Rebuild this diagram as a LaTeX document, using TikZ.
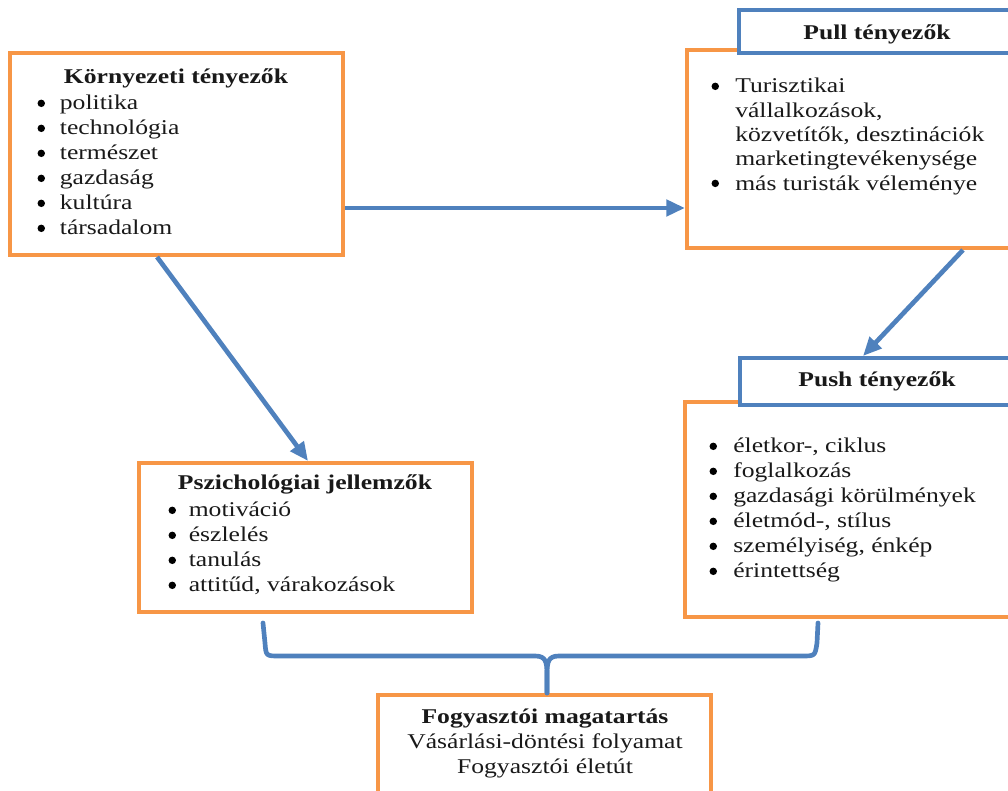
\documentclass[tikz,border=0pt]{standalone}
\usepackage{fontspec}
\setmainfont{Liberation Serif}[FakeStretch=1.22]
\usetikzlibrary{fit,arrows.meta}
\definecolor{oorange}{HTML}{F79646}
\definecolor{oblue}{HTML}{4F81BD}
\newcommand\dotb{\raisebox{2.2pt}{\tikz\fill[black] (0,0) circle (2.8pt);}}
\newcommand\bul[1][15pt]{\makebox[#1][l]{\makebox[0pt]{\dotb}}}
\newcommand\nob[1][15pt]{\makebox[#1][l]{}}
\begin{document}
\begin{tikzpicture}[x=0.75pt,y=-0.75pt,
 obox/.style={draw=oorange, line width=3pt, fill=white, inner sep=0pt},
 bbox/.style={draw=oblue, line width=3pt, fill=white, inner sep=0pt},
 txt/.style={inner sep=0pt, text=black!90, font=\fontsize{15.75}{18.75}\selectfont},
 ttl/.style={txt, font=\fontsize{15.75}{18.75}\selectfont\bfseries, anchor=base},
 lst/.style={txt, anchor=base west},
 arr/.style={draw=oblue, line width=3.5pt, -{Triangle[length=14pt,width=12pt]}},
 brc/.style={draw=oblue, line width=3.5pt, line cap=round, line join=round}]
\useasboundingbox (0,0) rectangle (1008,791);
\clip (0,0) rectangle (1008,791);

% boxes
\node[obox, fit={(10,53) (343,255)}] (korny) {};
\node[obox, fit={(687,50) (1020,248)}] (pull) {};
\node[bbox, fit={(739,10) (1020,53)}] (pullH) {};
\node[obox, fit={(685,402) (1020,617)}] (push) {};
\node[bbox, fit={(740,358) (1020,405)}] (pushH) {};
\node[obox, fit={(139,463) (472,612)}] (psych) {};
\node[obox, fit={(378,695) (711,810)}] (fogy) {};

% texts
\node[ttl] (kornyT) at (176,84) {Környezeti tényezők};
\node[lst] (kornyL) at (41,110) {\begin{tabular}[t]{@{}l@{}}
\bul[14pt]politika\\ \bul[14pt]technológia\\ \bul[14pt]természet\\
\bul[14pt]gazdaság\\ \bul[14pt]kultúra\\ \bul[14pt]társadalom\end{tabular}};

\node[ttl] (pullT) at (877,40) {Pull tényezők};
\node[lst, font=\fontsize{15.75}{18.2}\selectfont] (pullL) at (715,93) {\begin{tabular}[t]{@{}l@{}}
\bul Turisztikai\\ \nob vállalkozások,\\ \nob közvetítők, desztinációk\\
\nob marketingtevékenysége\\ \bul más turisták véleménye\end{tabular}};

\node[ttl] (pushT) at (877,387) {Push tényezők};
\node[lst] (pushL) at (713,453) {\begin{tabular}[t]{@{}l@{}}
\bul életkor-, ciklus\\ \bul foglalkozás\\ \bul gazdasági körülmények\\
\bul életmód-, stílus\\ \bul személyiség, énkép\\ \bul érintettség\end{tabular}};

\node[ttl] (psychT) at (305,490) {Pszichológiai jellemzők};
\node[lst] (psychL) at (172,517) {\begin{tabular}[t]{@{}l@{}}
\bul[12.4pt]motiváció\\ \bul[12.4pt]észlelés\\ \bul[12.4pt]tanulás\\
\bul[12.4pt]attitűd, várakozások\end{tabular}};

\node[txt, anchor=base] (fogyT) at (545,724) {\begin{tabular}[t]{@{}c@{}}
\textbf{Fogyasztói magatartás}\\ Vásárlási-döntési folyamat\\ Fogyasztói életút\end{tabular}};

% arrows
\coordinate (a1) at ([yshift=-40.5pt]korny.east);
\draw[arr] (a1) -- (a1 -| pull.west);
\draw[arr] ([xshift=-14.6pt]korny.south) -- ([xshift=1.9pt]psych.north);
\draw[arr] ([xshift=82.1pt]pull.south) -- ([xshift=-12.75pt]pushH.north);

% brace
\coordinate (bl) at (263,623);
\coordinate (br) at (818,623);
\coordinate (tip) at ([xshift=1.9pt]fogy.north);
\draw[brc] (bl) -- (265,643) .. controls (266,656) and (266,656) .. (279,656)
  -- (535,656) .. controls (546,656) and (547,662) .. (547,675) -- (tip);
\draw[brc] (br) -- (817,643) .. controls (815,656) and (815,656) .. (802,656)
  -- (559,656) .. controls (548,656) and (547,662) .. (547,675) -- (tip);
\end{tikzpicture}
\end{document}
